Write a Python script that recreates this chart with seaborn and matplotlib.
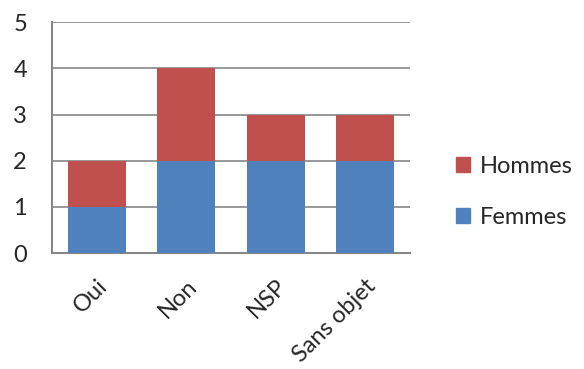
import seaborn as sns
import matplotlib.pyplot as plt
import pandas as pd
from matplotlib.patches import Patch

categories = ['Oui', 'Non', 'NSP', 'Sans objet']
femmes = [1, 2, 2, 2]
hommes = [1, 2, 1, 1]

BLUE = '#4F81BD'
RED = '#C0504D'

sns.set_style('white')
plt.rcParams['font.family'] = ['Lato', 'DejaVu Sans']

df = pd.DataFrame({'cat': categories, 'femmes': femmes, 'hommes': hommes})
df['total'] = df['femmes'] + df['hommes']

fig = plt.figure(figsize=(5.84, 3.69), dpi=100)
ax = fig.add_axes([0.089, 0.314, 0.613, 0.626])

# stacked: total in red, femmes drawn over it in blue
sns.barplot(data=df, x='cat', y='total', color=RED, saturation=1, width=0.65,
            linewidth=0, ax=ax, zorder=2)
sns.barplot(data=df, x='cat', y='femmes', color=BLUE, saturation=1, width=0.65,
            linewidth=0, ax=ax, zorder=3)

ax.set_ylim(0, 5)
ax.set_yticks(range(6))
ax.set_xlim(-0.5, 3.5)
ax.yaxis.grid(True, color='#868686', linewidth=1.2, zorder=0)
ax.set_axisbelow(True)
ax.set_xlabel('')
ax.set_ylabel('')
for s in ['top', 'right']:
    ax.spines[s].set_visible(False)
for s in ['left', 'bottom']:
    ax.spines[s].set_color('#868686')
    ax.spines[s].set_linewidth(1.5)
ax.tick_params(axis='both', length=0, labelsize=17)
ax.tick_params(axis='y', pad=18)
ax.tick_params(axis='x', pad=16)
plt.setp(ax.get_xticklabels(), rotation=45, ha='right', rotation_mode='anchor')

handles = [Patch(color=RED, label='Hommes'), Patch(color=BLUE, label='Femmes')]
fig.legend(handles=handles, loc='center left', bbox_to_anchor=(0.745, 0.48),
           frameon=False, fontsize=17, handlelength=0.6, handleheight=0.6,
           labelspacing=1.3, handletextpad=0.4)

fig.savefig('out.png', dpi=100)
